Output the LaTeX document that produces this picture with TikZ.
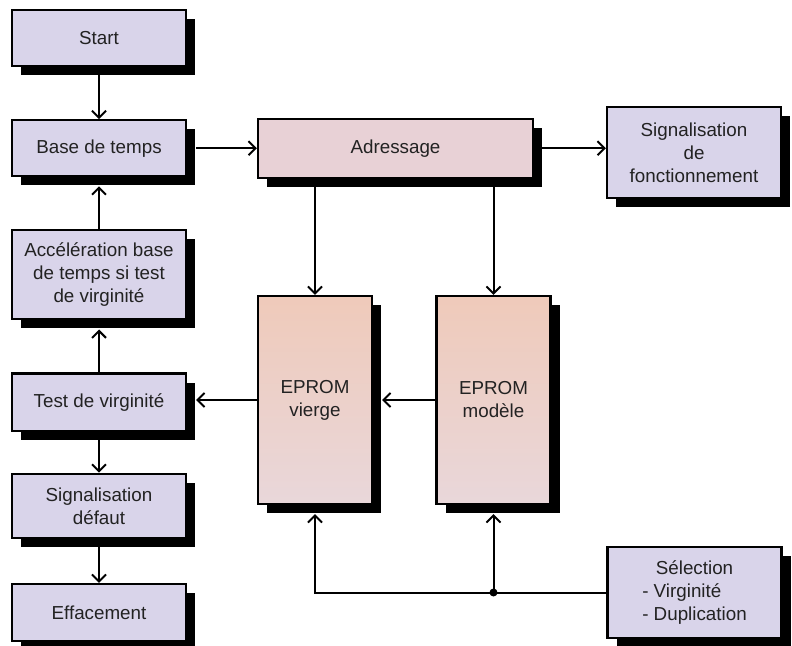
\documentclass[tikz,border=0pt]{standalone}
\usepackage{fontspec}
\setmainfont{Liberation Sans}
\usetikzlibrary{arrows.meta, positioning, shadows}
\definecolor{lavFill}{HTML}{D9D4EA}
\definecolor{roseFill}{HTML}{E8D1D6}
\definecolor{peachTop}{HTML}{EFCABA}
\definecolor{peachLow}{HTML}{E9D7DA}
\definecolor{textDark}{HTML}{222222}
\tikzset{
  arrowK/.style={-{Straight Barb[length=3.5pt,width=7pt,line width=1pt]}, black, line width=1pt},
  boxBase/.style={rectangle, draw=black, line width=1.1pt, align=center, inner sep=3pt,
                  text=textDark,
                  drop shadow={fill=black, opacity=1, shadow xshift=4.5pt, shadow yshift=-4.5pt}},
  boxLav/.style={boxBase, fill=lavFill, minimum width=87pt},
  boxRose/.style={boxBase, fill=roseFill},
  boxPeach/.style={boxBase, top color=peachTop, bottom color=peachLow,
                   minimum width=57pt, minimum height=104pt},
}
\begin{document}
\begin{tikzpicture}[x=0.5pt, y=-0.5pt, font=\fontsize{9.4}{11.5}\selectfont, node distance=26pt]
  \useasboundingbox (0,0) rectangle (792,646);
  % colonne de gauche
  \node[boxLav, minimum height=28pt] (start) at (99,38) {Start};
  \node[boxLav, minimum height=28pt, below=of start] (base) {Base de temps};
  \node[boxLav, minimum height=44.5pt, below=of base] (accel) {Accélération base\\de temps si test\\de virginité};
  \node[boxLav, minimum height=28.5pt, below=of accel] (test) {Test de virginité};
  \node[boxLav, minimum height=32pt, below=20.5pt of test] (sigdef) {Signalisation\\défaut};
  \node[boxLav, minimum height=28.5pt, below=22pt of sigdef] (eff) {Effacement};
  % partie centrale et droite
  \node[boxRose, minimum width=137.5pt, minimum height=29.5pt] (adr) at (395.5,148.2) {Adressage};
  \node[boxLav, minimum height=45.5pt] (sigf) at (694,152.5) {Signalisation\\de\\fonctionnement};
  \node[boxPeach] (vierge) at (315,400) {EPROM\\vierge};
  \node[boxPeach] (modele) at (493.5,400) {EPROM\\modèle};
  \node[boxLav, minimum height=45.5pt] (sel) at (694.5,592.5)
    {\begin{tabular}{@{}l@{}}\multicolumn{1}{@{}c@{}}{Sélection}\\- Virginité\\- Duplication\end{tabular}};
  % liaisons
  \draw[arrowK] (start) -- (base);
  \draw[arrowK] (accel) -- ([yshift=-4.5pt]base.south);
  \draw[arrowK] (test) -- ([yshift=-4.5pt]accel.south);
  \draw[arrowK] (test) -- (sigdef);
  \draw[arrowK] (sigdef) -- (eff);
  \draw[arrowK] ([xshift=4.5pt]base.east) -- (base.east -| adr.west);
  \draw[arrowK] (adr.east) -- (adr.east -| sigf.west);
  \draw[arrowK] (adr.south -| vierge.north) -- (vierge.north);
  \draw[arrowK] (adr.south -| modele.north) -- (modele.north);
  \draw[arrowK] (vierge.west) -- ([xshift=4.5pt]vierge.west -| test.east);
  \draw[arrowK] (modele.west) -- ([xshift=4.5pt]vierge.east);
  \coordinate (jct) at (modele.south |- sel.west);
  \draw[arrowK] (sel.west) -| ([yshift=-4.5pt]vierge.south);
  \draw[arrowK] (jct) -- ([yshift=-4.5pt]modele.south);
  \fill (jct) circle (2pt);
\end{tikzpicture}
\end{document}
